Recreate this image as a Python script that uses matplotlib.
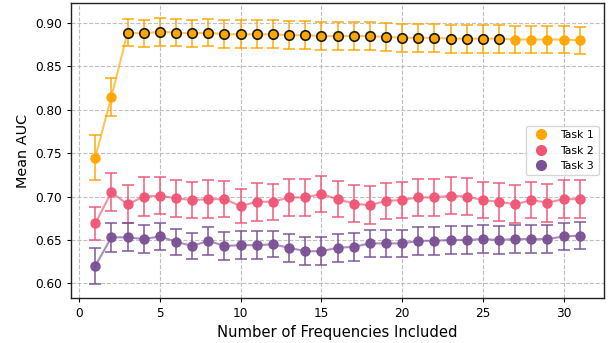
import matplotlib
matplotlib.use("Agg")
import matplotlib.pyplot as plt
from matplotlib.lines import Line2D
import numpy as np

n_freq = list(range(1, 32))

task1_mean = [0.745, 0.815, 0.889, 0.888, 0.890, 0.889, 0.888, 0.889, 0.887, 0.887,
              0.887, 0.887, 0.886, 0.886, 0.885, 0.885, 0.885, 0.885, 0.884, 0.883,
              0.883, 0.883, 0.882, 0.882, 0.882, 0.882, 0.881, 0.881, 0.881, 0.881, 0.880]
task1_err = [0.026, 0.022, 0.016, 0.016, 0.016, 0.016, 0.016, 0.016, 0.016, 0.016,
             0.016, 0.016, 0.016, 0.016, 0.016, 0.016, 0.016, 0.016, 0.016, 0.016,
             0.016, 0.016, 0.016, 0.016, 0.016, 0.016, 0.016, 0.016, 0.016, 0.016, 0.016]

task2_mean = [0.669, 0.705, 0.691, 0.700, 0.701, 0.698, 0.696, 0.697, 0.697, 0.689,
              0.694, 0.694, 0.699, 0.699, 0.703, 0.697, 0.692, 0.690, 0.695, 0.696,
              0.699, 0.699, 0.701, 0.700, 0.696, 0.694, 0.691, 0.696, 0.693, 0.697, 0.697]
task2_err = [0.019, 0.022, 0.022, 0.022, 0.021, 0.021, 0.021, 0.022, 0.021, 0.020,
             0.022, 0.021, 0.021, 0.021, 0.021, 0.021, 0.021, 0.022, 0.021, 0.021,
             0.021, 0.021, 0.021, 0.021, 0.021, 0.022, 0.022, 0.021, 0.022, 0.022, 0.022]

task3_mean = [0.620, 0.653, 0.653, 0.651, 0.654, 0.648, 0.643, 0.649, 0.643, 0.644,
              0.644, 0.645, 0.641, 0.637, 0.637, 0.641, 0.642, 0.646, 0.646, 0.646,
              0.649, 0.649, 0.650, 0.650, 0.651, 0.650, 0.651, 0.651, 0.651, 0.654, 0.655]
task3_err = [0.021, 0.017, 0.016, 0.016, 0.016, 0.015, 0.015, 0.016, 0.016, 0.016,
             0.016, 0.015, 0.016, 0.016, 0.016, 0.016, 0.016, 0.016, 0.016, 0.016,
             0.016, 0.016, 0.016, 0.016, 0.016, 0.016, 0.016, 0.016, 0.016, 0.016, 0.016]

highlight = list(range(3, 27))  # Task 1 points drawn with black edge

labels = ["Task 1", "Task 2", "Task 3"]
colors = ["#ffa600", "#ef5675", "#7a5195"]

fig = plt.figure(figsize=(6.16, 3.43), dpi=100)
ax = fig.add_axes([0.1153, 0.132, 0.8652, 0.858])

series = [(task1_mean, task1_err), (task2_mean, task2_err), (task3_mean, task3_err)]
for (m, e), c in zip(series, colors):
    ax.errorbar(n_freq, m, yerr=e, fmt='none', ecolor=c, alpha=0.75,
                capsize=4.3, elinewidth=1.4, capthick=1.4, zorder=2)
    ax.plot(n_freq, m, color=c, alpha=0.65, lw=1.5, zorder=2)
    ax.plot(n_freq, m, 'o', color=c, ms=6.5, alpha=0.95, zorder=3)

hx = [x for x in n_freq if x in highlight]
hy = [task1_mean[i] for i, x in enumerate(n_freq) if x in highlight]
ax.plot(hx, hy, 'o', color=colors[0], ms=6.8, markeredgecolor='#1a1a1a',
        markeredgewidth=1.2, zorder=4)

ax.set_xlim(-0.5, 32.5)
ax.set_ylim(0.5834, 0.9226)
ax.set_xticks([0, 5, 10, 15, 20, 25, 30])
ax.set_yticks([0.60, 0.65, 0.70, 0.75, 0.80, 0.85, 0.90])
ax.set_yticklabels([f"{v:.2f}" for v in [0.60, 0.65, 0.70, 0.75, 0.80, 0.85, 0.90]])
ax.tick_params(labelsize=8.7, length=3)
ax.grid(True, linestyle='--', color='#b0b0b0', alpha=0.8, lw=0.8)
ax.set_axisbelow(True)
ax.set_xlabel("Number of Frequencies Included", fontsize=10.6)
ax.set_ylabel("Mean AUC", fontsize=10.4)
for s in ax.spines.values():
    s.set_color('#222222')
    s.set_linewidth(1.0)

handles = [Line2D([], [], marker='o', linestyle='none', color=c, ms=7) for c in colors]
ax.legend(handles, labels, loc='center right', fontsize=7.8, framealpha=0.8)

fig.savefig("out.png", dpi=100)
